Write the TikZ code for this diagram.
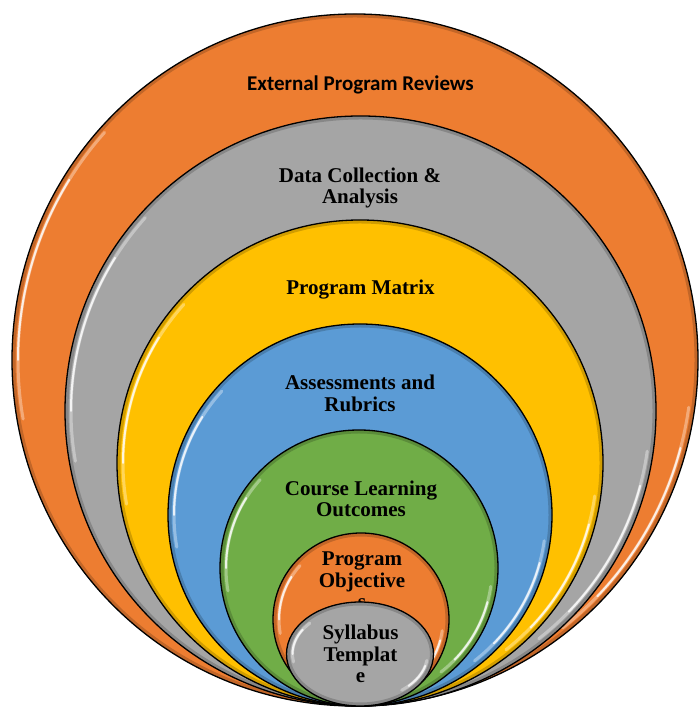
\documentclass[tikz,border=0pt]{standalone}
\usepackage{fontspec}
\setmainfont{Liberation Serif}
\newfontfamily\calib{Carlito}
\definecolor{cOrange}{HTML}{ED7D31}
\definecolor{cGray}{HTML}{A5A5A5}
\definecolor{cYellow}{HTML}{FFC000}
\definecolor{cBlue}{HTML}{5B9BD5}
\definecolor{cGreen}{HTML}{70AD47}
\tikzset{
  outline/.style={draw=black, line width=1.3pt},
  lbl/.style={font=\bfseries\fontsize{21}{21.5}\selectfont, align=center, inner sep=0pt, anchor=base},
  hilite/.style={white, line cap=round},
}
\newcommand\drawring[5]{%
  \pgfmathsetmacro\hrx{#3-6}\pgfmathsetmacro\hry{#4-6}%
  \fill[#5] (#1,#2) ellipse [x radius=#3, y radius=#4];
  \begin{scope}
    \clip (#1,#2) ellipse [x radius=#3, y radius=#4];
    \draw[black, opacity=.18, line width=7pt] (#1,#2) ellipse [x radius=#3, y radius=#4];
  \end{scope}
  \draw[hilite, line width=3pt, opacity=.35] ({#1+\hrx*cos(138)},{#2+\hry*sin(138)}) arc[start angle=138, end angle=190, x radius=\hrx, y radius=\hry];
  \draw[hilite, line width=2pt, opacity=.8] ({#1+\hrx*cos(148)},{#2+\hry*sin(148)}) arc[start angle=148, end angle=180, x radius=\hrx, y radius=\hry];
  \draw[hilite, line width=3pt, opacity=.35] ({#1+\hrx*cos(-8)},{#2+\hry*sin(-8)}) arc[start angle=-8, end angle=-52, x radius=\hrx, y radius=\hry];
  \draw[hilite, line width=2pt, opacity=.8] ({#1+\hrx*cos(-15)},{#2+\hry*sin(-15)}) arc[start angle=-15, end angle=-44, x radius=\hrx, y radius=\hry];
  \draw[outline] (#1,#2) ellipse [x radius=#3, y radius=#4];
}
\begin{document}
\begin{tikzpicture}[x=1pt,y=1pt]
\useasboundingbox (0,0) rectangle (699,708);
\drawring{355}{348}{343}{346}{cOrange}
\drawring{360.5}{297}{295.5}{295}{cGray}
\drawring{360}{245}{243}{243}{cYellow}
\drawring{360}{193}{192}{191}{cBlue}
\drawring{359}{140}{139}{138}{cGreen}
\drawring{361}{88.5}{88}{86.5}{cOrange}
\node[lbl, font=\calib\bfseries\fontsize{21}{21.5}\selectfont] (ext) at (360.5,617) {External Program Reviews};
\node[lbl] (data) at (360,504) {Data Collection \&\\Analysis};
\node[lbl] (matrix) at (360.5,413) {Program Matrix};
\node[lbl] (assess) at (360,296.5) {Assessments and\\Rubrics};
\node[lbl] (course) at (361,191) {Course Learning\\Outcomes};
\node[lbl] (objective) at (362,99) {Program\\Objective\\s};
\drawring{360}{54}{73.5}{52}{cGray}
\node[lbl] (syllabus) at (360.5,25) {Syllabus\\Templat\\e};
\end{tikzpicture}
\end{document}
